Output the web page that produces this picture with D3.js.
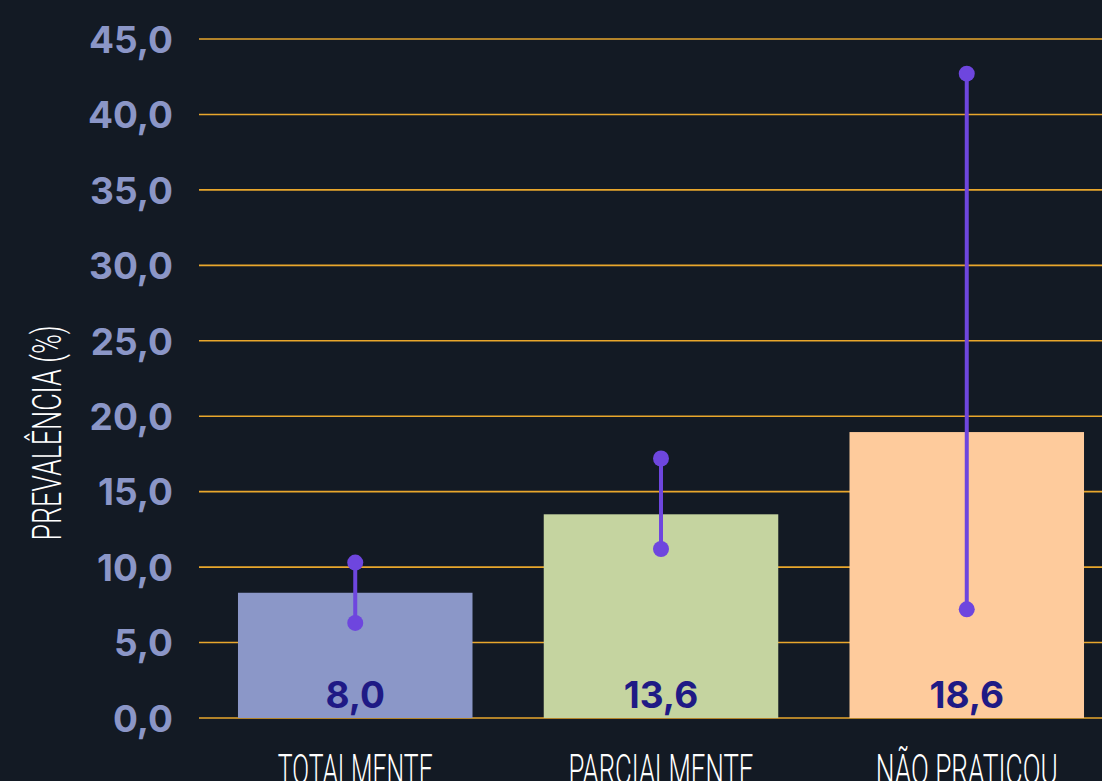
<!DOCTYPE html>
<html>
<head>
<meta charset="utf-8">
<script src="https://cdn.jsdelivr.net/npm/d3@7"></script>
<style>
  html, body { margin: 0; padding: 0; background: #131a24; overflow: hidden; }
</style>
</head>
<body>
<svg id="chart"></svg>
<script>
// Prevalência por categoria, com intervalo de confiança
const categories = ["TOTALMENTE", "PARCIALMENTE", "NÃO PRATICOU"];
const barValues = [8.3, 13.5, 18.95];
const valueLabels = ["8,0", "13,6", "18,6"];
const lowerCI = [6.3, 11.2, 7.2];
const upperCI = [10.3, 17.2, 42.7];
const yTicks = [0, 5, 10, 15, 20, 25, 30, 35, 40, 45];
const barColors = ["#8b97c8", "#c5d4a0", "#fecb9c"];

const width = 1102;
const height = 781;
const thinFont = "Roboto, 'DejaVu Sans', sans-serif";

const svg = d3.select("#chart").attr("width", width).attr("height", height);

const yScale = d3.scaleLinear().domain([0, 45]).range([718, 39]);
const xScale = d3
  .scaleBand()
  .domain(categories)
  .range([186, 1136])
  .paddingInner(0.233)
  .paddingOuter(0.17);

// gridlines
svg
  .append("g")
  .selectAll("line")
  .data(yTicks)
  .enter()
  .append("line")
  .attr("x1", 199)
  .attr("x2", width)
  .attr("y1", (d) => yScale(d))
  .attr("y2", (d) => yScale(d))
  .attr("stroke", "#e9a72c")
  .attr("stroke-width", 1.6);

// y axis labels
const yAxis = d3
  .axisLeft(yScale)
  .tickValues(yTicks)
  .tickSize(0)
  .tickPadding(0)
  .tickFormat((d) => d3.format(".1f")(d).replace(".", ","));

const yAxisG = svg.append("g").attr("transform", "translate(173,0)").call(yAxis);
yAxisG.select(".domain").remove();
yAxisG
  .selectAll("text")
  .attr("fill", "#8b96c7")
  .attr("font-family", "Inter, 'Noto Sans', sans-serif")
  .attr("font-weight", 700)
  .attr("font-size", 37)
  .attr("dy", "0.36em");

// bars
svg
  .append("g")
  .selectAll("rect")
  .data(categories)
  .enter()
  .append("rect")
  .attr("x", (d) => xScale(d))
  .attr("width", xScale.bandwidth())
  .attr("y", (d, i) => yScale(barValues[i]))
  .attr("height", (d, i) => yScale(0) - yScale(barValues[i]))
  .attr("fill", (d, i) => barColors[i]);

// value labels
svg
  .append("g")
  .selectAll("text")
  .data(categories)
  .enter()
  .append("text")
  .attr("x", (d) => xScale(d) + xScale.bandwidth() / 2)
  .attr("y", 708)
  .attr("text-anchor", "middle")
  .attr("fill", "#1f1a85")
  .attr("font-family", "Inter, 'Noto Sans', sans-serif")
  .attr("font-weight", 700)
  .attr("font-size", 37)
  .text((d, i) => valueLabels[i]);

// error bars
const errG = svg
  .append("g")
  .selectAll("g")
  .data(categories)
  .enter()
  .append("g")
  .attr("transform", (d) => "translate(" + (xScale(d) + xScale.bandwidth() / 2) + ",0)");

errG
  .append("line")
  .attr("y1", (d, i) => yScale(lowerCI[i]))
  .attr("y2", (d, i) => yScale(upperCI[i]))
  .attr("stroke", "#6e46de")
  .attr("stroke-width", 4);

errG
  .append("circle")
  .attr("cy", (d, i) => yScale(upperCI[i]))
  .attr("r", 8)
  .attr("fill", "#6e46de");

errG
  .append("circle")
  .attr("cy", (d, i) => yScale(lowerCI[i]))
  .attr("r", 8)
  .attr("fill", "#6e46de");

// category labels
const labelWidths = [155, 185, 182];
svg
  .append("g")
  .selectAll("text")
  .data(categories)
  .enter()
  .append("text")
  .attr("x", (d) => xScale(d) + xScale.bandwidth() / 2)
  .attr("y", 784)
  .attr("text-anchor", "middle")
  .attr("fill", "#ffffff")
  .attr("font-family", thinFont)
  .attr("font-weight", 300)
  .attr("font-size", 42)
  .attr("textLength", (d, i) => labelWidths[i])
  .attr("lengthAdjust", "spacingAndGlyphs")
  .text((d) => d);

// y axis title
svg
  .append("text")
  .attr("transform", "translate(61,433) rotate(-90)")
  .attr("text-anchor", "middle")
  .attr("fill", "#ffffff")
  .attr("font-family", thinFont)
  .attr("font-weight", 300)
  .attr("font-size", 40)
  .attr("textLength", 215)
  .attr("lengthAdjust", "spacingAndGlyphs")
  .text("PREVALÊNCIA (%)");
</script>
</body>
</html>
